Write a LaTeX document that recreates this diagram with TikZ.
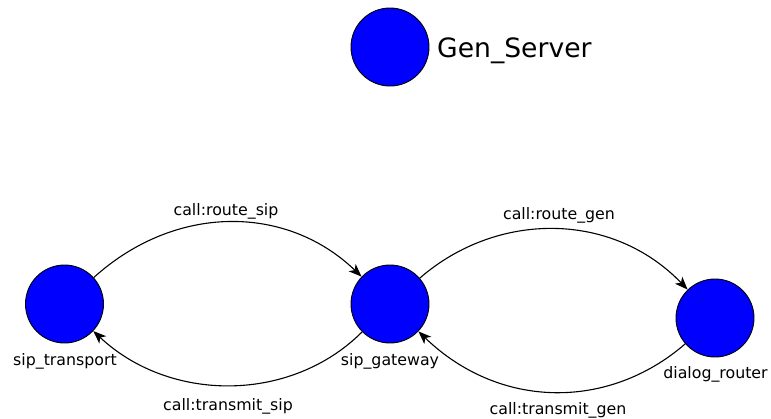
\documentclass[tikz,border=0pt]{standalone}
\usepackage{fontspec}
\setmainfont{DejaVu Sans}
\usetikzlibrary{arrows.meta}
\definecolor{procblue}{HTML}{0000FF}
\begin{document}
\begin{tikzpicture}[x=1pt,y=-1pt,
  proc/.style={circle,draw=black,line width=0.9pt,fill=procblue,minimum size=78pt,inner sep=0pt},
  lbl/.style={font=\fontsize{15.8}{18}\selectfont,inner sep=0pt,anchor=base},
  msg/.style={line width=1.1pt,-{Stealth[length=13pt,width=10pt,inset=3.5pt]}}]
\useasboundingbox (0,0) rectangle (771,418);
% legend
\node[proc] (legend) at (390,47) {};
\node[font=\fontsize{26.6}{30}\selectfont,inner sep=0pt,anchor=base west] (legendtext) at (437,57) {Gen\_Server};
% processes
\node[proc] (st) at (64.5,304) {};
\node[proc] (sg) at (390,304) {};
\node[proc] (dr) at (715,318) {};
\node[lbl] (stl) at (65,365) {sip\_transport};
\node[lbl] (sgl) at (390,365) {sip\_gateway};
\node[lbl] (drl) at (715.5,378) {dialog\_router};
% messages
\draw[msg] (st) .. controls (175,204) and (286,204) .. (sg);
\draw[msg] (sg) .. controls (291,403) and (170,403) .. (st);
\draw[msg] (sg) .. controls (497,211) and (612,211) .. (dr);
\draw[msg] (dr) .. controls (609,410) and (500,410) .. (sg);
\node[lbl] (m1) at (226,215) {call:route\_sip};
\node[lbl] (m2) at (228,410) {call:transmit\_sip};
\node[lbl] (m3) at (559,219) {call:route\_gen};
\node[lbl] (m4) at (558,414) {call:transmit\_gen};
\end{tikzpicture}
\end{document}
